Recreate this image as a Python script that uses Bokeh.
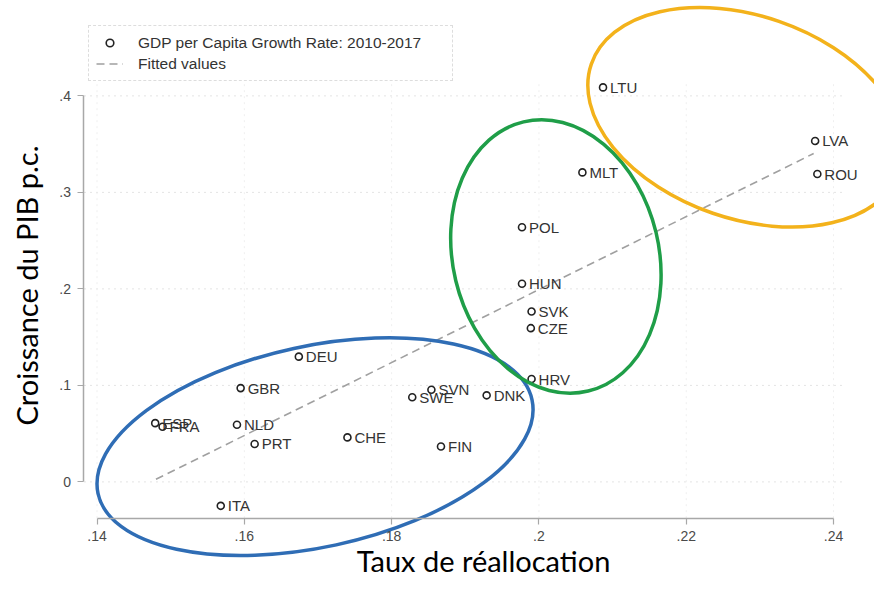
import math
from bokeh.plotting import figure
from bokeh.models import LinearAxis, FixedTicker, ColumnDataSource, Label, Range1d
from bokeh.core.properties import value
from bokeh.embed import file_html
from bokeh.resources import INLINE

# ---- data ----
countries = ["LTU", "LVA", "ROU", "MLT", "POL", "HUN", "SVK", "CZE", "HRV", "DNK",
             "SVN", "SWE", "FIN", "CHE", "DEU", "GBR", "NLD", "PRT", "ESP", "FRA", "ITA"]
realloc = [0.2087, 0.2375, 0.2378, 0.2059, 0.1977, 0.1977, 0.1990, 0.1989, 0.1990, 0.1929,
           0.1854, 0.1828, 0.1867, 0.1740, 0.1674, 0.1595, 0.1590, 0.1614, 0.1479, 0.1489, 0.1568]
growth = [0.4088, 0.3533, 0.3190, 0.3207, 0.2639, 0.2054, 0.1765, 0.1593, 0.1066, 0.0897,
          0.0955, 0.0877, 0.0367, 0.0461, 0.1298, 0.0972, 0.0592, 0.0393, 0.0609, 0.0572, -0.0248]

fit_x = [0.1480, 0.2373]
fit_y = [0.0027, 0.3403]

x_ticks = [0.14, 0.16, 0.18, 0.2, 0.22, 0.24]
x_tick_labels = [".14", ".16", ".18", ".2", ".22", ".24"]
y_ticks = [0, 0.1, 0.2, 0.3, 0.4]
y_tick_labels = ["0", ".1", ".2", ".3", ".4"]

legend_labels = ["GDP per Capita Growth Rate: 2010-2017", "Fitted values"]
x_title = "Taux de réallocation"
y_title = "Croissance du PIB p.c."

# highlighted groups (hand-drawn ellipses)
group_cx = [0.1696, 0.2023, 0.2281]
group_cy = [0.0365, 0.2336, 0.3778]
group_w = [444, 206, 327]
group_h = [201, 277, 203]
group_angle_deg = [12.2, 13.5, -19.0]
group_colors = ["#2f6db5", "#1f9e48", "#f3b21b"]

# ---- figure ----
W, H = 874, 579
p = figure(width=W, height=H, output_backend="svg", toolbar_location=None,
           x_axis_type=None, y_axis_type=None,
           x_range=Range1d(0.126894, 0.24556), y_range=Range1d(-0.10114, 0.49884),
           min_border=0, min_border_left=0, min_border_right=0,
           min_border_top=0, min_border_bottom=0)
p.outline_line_color = None
p.background_fill_color = "white"
p.border_fill_color = "white"

x_axis_pos = -0.0376
y_axis_pos = 0.13823
grid_right = 0.2413
grid_top = 0.415

# faint grid lines
p.segment(x0=[y_axis_pos] * len(y_ticks), x1=[grid_right] * len(y_ticks), y0=y_ticks, y1=y_ticks,
          line_color="#e4e4e4", line_width=1, line_dash="dotted")
p.segment(x0=x_ticks, x1=x_ticks, y0=[x_axis_pos] * len(x_ticks), y1=[grid_top] * len(x_ticks),
          line_color="#efefef", line_width=1, line_dash="dotted")

# axes
xaxis = LinearAxis(fixed_location=x_axis_pos, bounds=(x_ticks[0], x_ticks[-1]),
                   ticker=FixedTicker(ticks=x_ticks),
                   major_label_overrides={t: l for t, l in zip(x_ticks, x_tick_labels)})
yaxis = LinearAxis(fixed_location=y_axis_pos, bounds=(y_ticks[0], y_ticks[-1]),
                   ticker=FixedTicker(ticks=y_ticks),
                   major_label_overrides={t: l for t, l in zip(y_ticks, y_tick_labels)},
                   major_label_orientation="horizontal")
for ax in (xaxis, yaxis):
    ax.axis_line_color = "#a8a8a8"
    ax.axis_line_width = 1.5
    ax.major_tick_line_color = "#a8a8a8"
    ax.major_tick_line_width = 1.2
    ax.major_tick_out = 6
    ax.major_tick_in = 0
    ax.minor_tick_line_color = None
    ax.major_label_text_font = "Liberation Sans"
    ax.major_label_text_font_size = "14px"
    ax.major_label_text_color = "#4a4a4a"
xaxis.major_label_standoff = 7
yaxis.major_label_standoff = 7
p.add_layout(xaxis, "below")
p.add_layout(yaxis, "left")

# data
src = ColumnDataSource(dict(x=realloc, y=growth, name=countries))
p.line(x=fit_x, y=fit_y, line_color="#a0a0a0", line_width=1.6, line_dash="8 5",
       legend_label=legend_labels[1])
sc = p.scatter(x="x", y="y", source=src, marker="circle", size=7, fill_color=None,
               line_color="#222222", line_width=1.6, legend_label=legend_labels[0])
p.text(x="x", y="y", text="name", source=src, x_offset=7,
       text_font=value("Liberation Sans"), text_font_size=value("15px"),
       text_color="#333333", text_baseline="middle", text_align="left")

# group ellipses
p.ellipse(x=group_cx, y=group_cy, width=group_w, height=group_h,
          width_units="screen", height_units="screen",
          angle=[math.radians(a) for a in group_angle_deg],
          fill_color=None, line_color=group_colors, line_width=3.5)

# legend
lg = p.legend[0]
items = list(lg.items)
items.sort(key=lambda it: 0 if it.label.value == legend_labels[0] else 1)
lg.items = items
lg.location = (88, 498)
lg.border_line_color = "#bdbdbd"
lg.border_line_dash = "dotted"
lg.border_line_width = 1
lg.background_fill_color = "white"
lg.background_fill_alpha = 1
lg.label_text_font = "Liberation Sans"
lg.label_text_font_size = "15.5px"
lg.label_text_color = "#333333"
lg.glyph_width = 27
lg.glyph_height = 19
lg.label_height = 19
lg.label_standoff = 15
lg.label_width = 307
lg.padding = 7
lg.spacing = 2
lg.margin = 0

# axis titles
p.add_layout(Label(x=483, y=19, x_units="screen", y_units="screen", text=x_title,
                   text_align="center", text_baseline="middle",
                   text_font="Lato", text_font_size="29px", text_color="black"))
p.add_layout(Label(x=26, y=294, x_units="screen", y_units="screen", text=y_title,
                   angle=math.pi / 2, text_align="center", text_baseline="middle",
                   text_font="Lato", text_font_size="29px", text_color="black"))

open("out.html", "w").write(file_html(p, INLINE))
